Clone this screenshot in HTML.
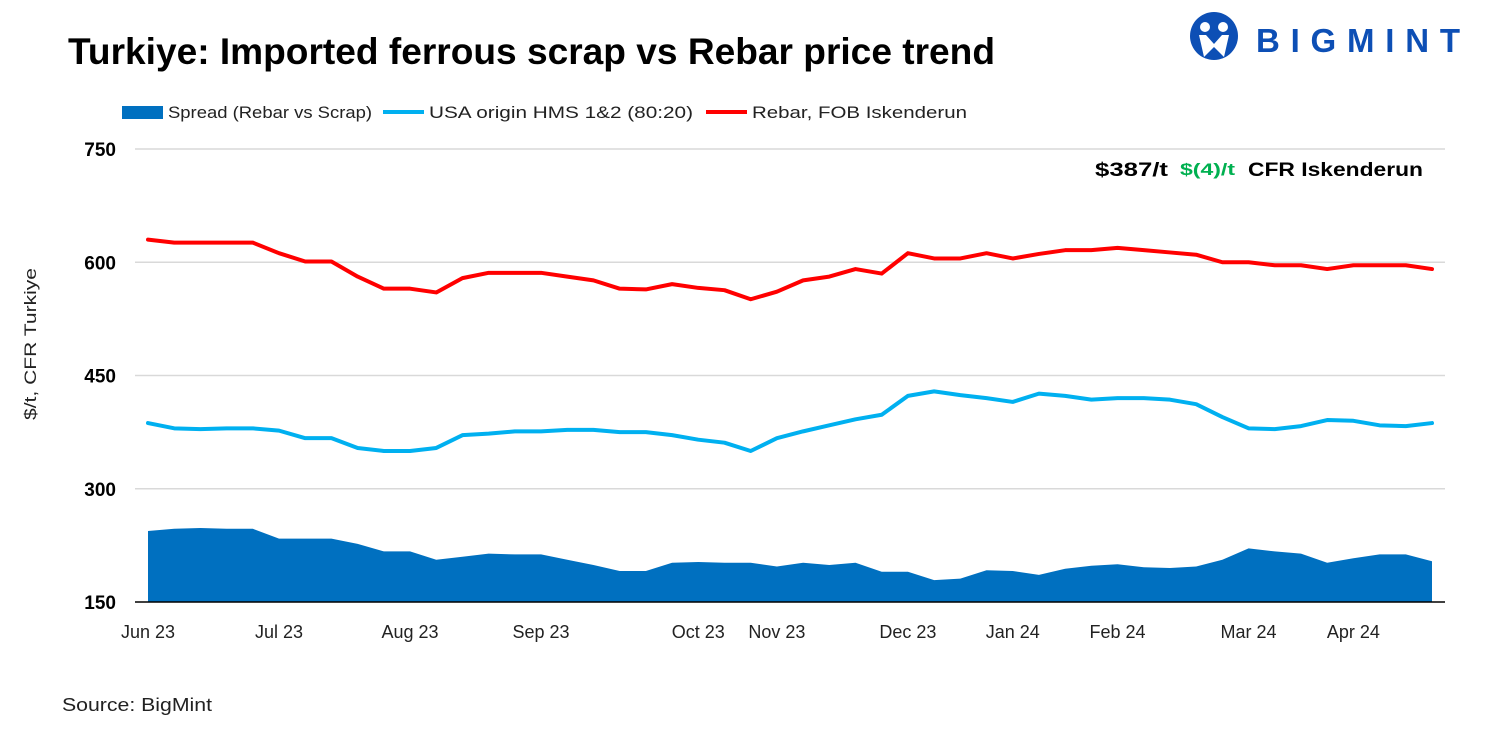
<!DOCTYPE html>
<html><head><meta charset="utf-8"><style>
body{margin:0;background:#fff;font-family:"Liberation Sans",sans-serif}
svg text{font-family:"Liberation Sans",sans-serif}
</style></head><body>
<svg id="c" width="1500" height="750" viewBox="0 0 1500 750" xmlns="http://www.w3.org/2000/svg">
<text x="68" y="64" font-size="37" font-weight="bold" fill="#000" textLength="927" lengthAdjust="spacingAndGlyphs">Turkiye: Imported ferrous scrap vs Rebar price trend</text>
<g>
<circle cx="1214" cy="36" r="24" fill="#0d4fb5"/>
<circle cx="1205" cy="27" r="5" fill="#fff"/><circle cx="1223" cy="27" r="5" fill="#fff"/>
<path d="M1199 35 L1204 57 L1214 47 L1224 57 L1229 35 L1222 35 L1214 44 L1206 35Z" fill="#fff"/>
<text x="1256" y="52" font-size="33" font-weight="bold" fill="#0d4fb5" textLength="204" lengthAdjust="spacing">BIGMINT</text>
</g>
<g>
<rect x="122" y="106" width="41" height="13" fill="#0070c0"/>
<text x="168" y="118" font-size="17" fill="#222" textLength="204" lengthAdjust="spacingAndGlyphs">Spread (Rebar vs Scrap)</text>
<line x1="383" y1="112" x2="424" y2="112" stroke="#00b0f0" stroke-width="4"/>
<text x="429" y="118" font-size="17" fill="#222" textLength="264" lengthAdjust="spacingAndGlyphs">USA origin HMS 1&amp;2 (80:20)</text>
<line x1="706" y1="112" x2="747" y2="112" stroke="#ff0000" stroke-width="4"/>
<text x="752" y="118" font-size="17" fill="#222" textLength="215" lengthAdjust="spacingAndGlyphs">Rebar, FOB Iskenderun</text>
</g>
<text x="36" y="344" font-size="17" fill="#222" text-anchor="middle" textLength="152" lengthAdjust="spacingAndGlyphs" transform="rotate(-90 36 344)">$/t, CFR Turkiye</text>
<g>
<text x="1095" y="176" font-size="19" font-weight="bold" fill="#000" textLength="73" lengthAdjust="spacingAndGlyphs">$387/t</text>
<text x="1180" y="175" font-size="17" font-weight="bold" fill="#00b050" textLength="55" lengthAdjust="spacingAndGlyphs">$(4)/t</text>
<text x="1248" y="176" font-size="19" font-weight="bold" fill="#000" textLength="175" lengthAdjust="spacingAndGlyphs">CFR Iskenderun</text>
</g>
<text x="62" y="711" font-size="18" fill="#222" textLength="150" lengthAdjust="spacingAndGlyphs">Source: BigMint</text>
<g id="plot"></g>
</svg>
<script>
const yTicks=[150,300,450,600,750];
const monthLabels=["Jun 23","Jul 23","Aug 23","Sep 23","Oct 23","Nov 23","Dec 23","Jan 24","Feb 24","Mar 24","Apr 24"];
const monthIdx=[0,5,10,15,21,24,29,33,37,42,46];
const rebar=[630,626,626,626,626,612,601,601,581,565,565,560,579,586,586,586,581,576,565,564,571,566,563,551,561,576,581,591,585,612,605,605,612,605,611,616,616,619,616,613,610,600,600,596,596,591,596,596,596,591];
const scrap=[387,380,379,380,380,377,367,367,354,350,350,354,371,373,376,376,378,378,375,375,371,365,361,350,367,376,384,392,398,423,429,424,420,415,426,423,418,420,420,418,412,395,380,379,383,391,390,384,383,387];
const spread=[244,247,248,247,247,234,234,234,227,217,217,206,210,214,213,213,206,199,191,191,202,203,202,202,197,202,199,202,190,190,179,181,192,191,186,194,198,200,196,195,197,206,221,217,214,202,208,213,213,204];
const X0=148,X1=1432,YB=602,YT=149;
const xs=i=>X0+(X1-X0)*i/(rebar.length-1);
const ys=v=>YB-(v-150)*(YB-YT)/600;
const NS="http://www.w3.org/2000/svg";
const g=document.getElementById('plot');
function mk(t,a){const e=document.createElementNS(NS,t);for(const k in a)e.setAttribute(k,a[k]);g.appendChild(e);return e;}
yTicks.forEach(v=>{
 if(v>150){const l=mk('line',{x1:135,x2:1445,y1:ys(v),y2:ys(v),stroke:'#d9d9d9','stroke-width':1.5});
 
 }
 const t=mk('text',{x:116,y:ys(v)+7,'font-size':19,'font-weight':'bold','text-anchor':'end',fill:'#000'});
 t.textContent=v;
 
 
});
let d='M'+xs(0)+' '+ys(150);
spread.forEach((v,i)=>d+=' L'+xs(i)+' '+ys(v));
d+=' L'+xs(spread.length-1)+' '+ys(150)+'Z';
const a=mk('path',{d:d,fill:'#0070c0'});


const ax=mk('line',{x1:135,x2:1445,y1:YB,y2:YB,stroke:'#000','stroke-width':1.5});


function line(arr,col,name){
 const p=mk('polyline',{points:arr.map((v,i)=>xs(i)+','+ys(v)).join(' '),fill:'none',stroke:col,'stroke-width':4,'stroke-linejoin':'round','stroke-linecap':'round'});
 
 
}
line(scrap,'#00b0f0','usa-hms-line');
line(rebar,'#ff0000','rebar-line');
monthLabels.forEach((m,k)=>{
 const t=mk('text',{x:xs(monthIdx[k]),y:638,'font-size':18,'text-anchor':'middle',fill:'#222'});
 t.textContent=m;
 
 
});
</script>
</body></html>
